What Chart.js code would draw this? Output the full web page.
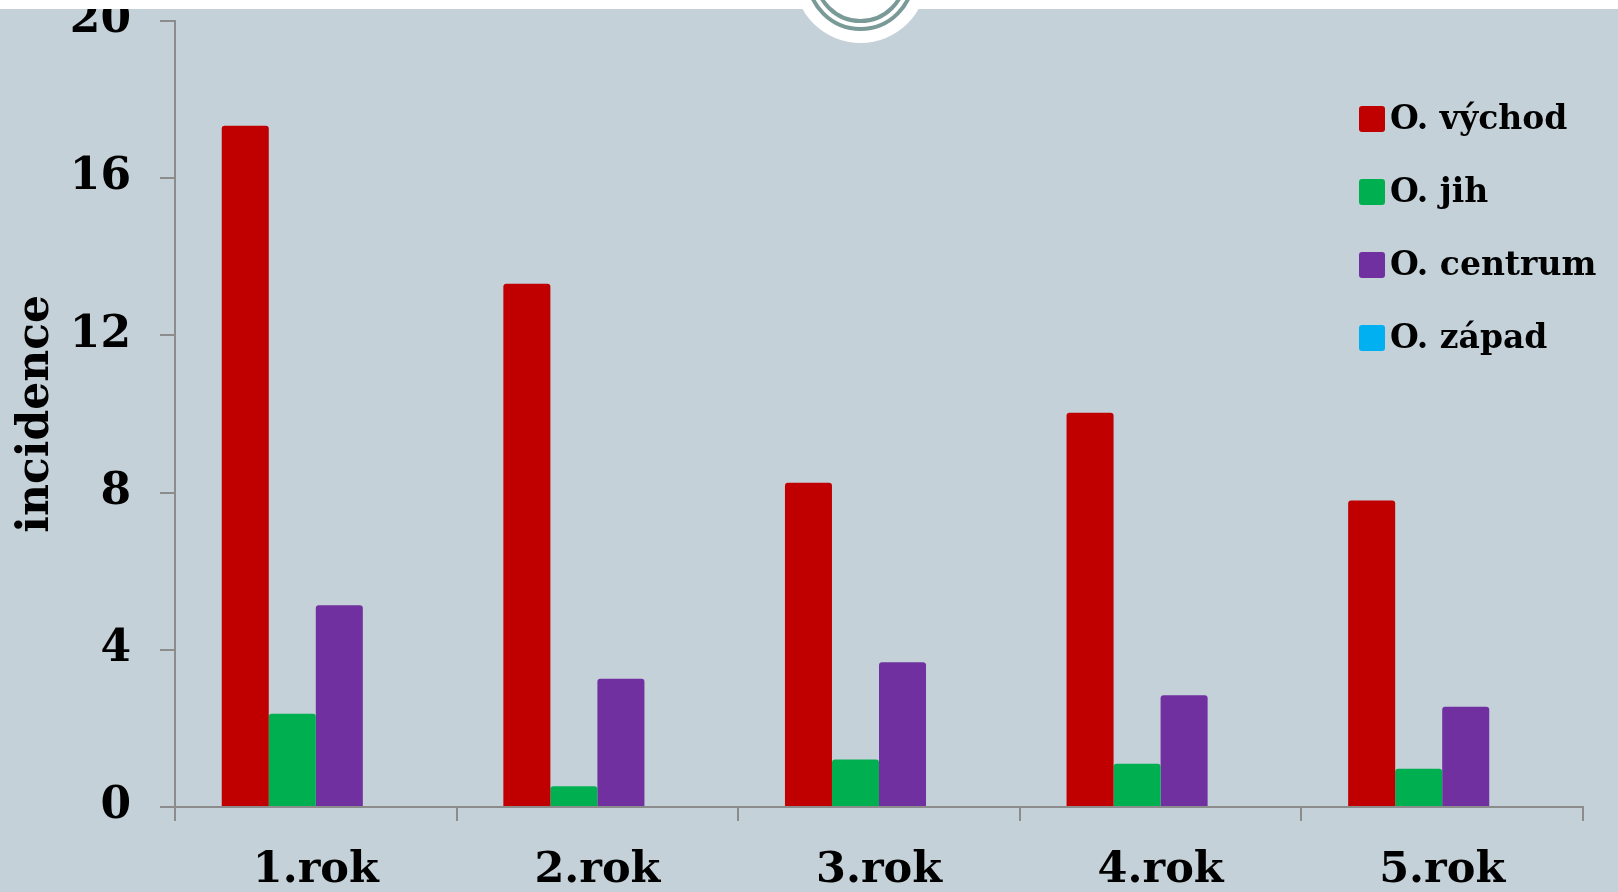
<!DOCTYPE html>
<html>
<head>
<meta charset="utf-8">
<script src="https://cdn.jsdelivr.net/npm/chart.js@4"></script>
<style>
  html, body { margin: 0; padding: 0; background: #c5d1d8; overflow: hidden; }
  #wrap { position: relative; width: 1618px; height: 892px; overflow: hidden; }
  #strip { position: absolute; left: 0; top: 0; width: 1618px; height: 9px; background: #fff; }
  .ring { position: absolute; border-radius: 50%; box-sizing: border-box; }
  #logo { left: 794px; top: -90px; width: 133px; height: 133px; background: #fff; }
  #ring1 { left: 806px; top: -78px; width: 109px; height: 109px; border: 4px solid #7a9a98; }
  #ring2 { left: 814px; top: -70px; width: 93px; height: 93px; border: 4px solid #7a9a98; }
  canvas { position: absolute; left: 0; top: -28px; }
</style>
</head>
<body>
<div id="wrap">
  <canvas id="incChart" width="1618" height="920"></canvas>
  <div id="strip"></div>
  <div id="logo" class="ring"></div>
  <div id="ring1" class="ring"></div>
  <div id="ring2" class="ring"></div>
</div>
<script>
const years = ["1.rok", "2.rok", "3.rok", "4.rok", "5.rok"];
const vychod = [17.33, 13.31, 8.25, 10.03, 7.80];
const jih = [2.37, 0.53, 1.21, 1.10, 0.97];
const centrum = [5.13, 3.26, 3.68, 2.84, 2.55];
const zapad = [0, 0, 0, 0, 0];
const yTicks = [0, 4, 8, 12, 16, 20];

const FONT = "'DejaVu Serif', serif";

// legend drawn inside the plot, top right (canvas sits 28px above the page)
const sideLegend = {
    id: "sideLegend",
    afterDraw(chart) {
        const c = chart.ctx;
        c.save();
        c.font = "bold 33px " + FONT;
        c.textBaseline = "middle";
        c.textAlign = "left";
        chart.data.datasets.forEach((ds, i) => {
            const y = 28 + 119 + i * 73;
            c.fillStyle = ds.backgroundColor;
            c.beginPath();
            c.roundRect(1359, y - 13, 26, 26, 3);
            c.fill();
            c.fillStyle = "#000";
            c.fillText(ds.label, 1390, y + 1);
        });
        c.restore();
    }
};

const ctx = document.getElementById("incChart").getContext("2d");

new Chart(ctx, {
    type: "bar",
    data: {
        labels: years,
        datasets: [
            { label: "O. východ", data: vychod, backgroundColor: "#c00000" },
            { label: "O. jih", data: jih, backgroundColor: "#00b050" },
            { label: "O. centrum", data: centrum, backgroundColor: "#7030a0" },
            { label: "O. západ", data: zapad, backgroundColor: "#00b0f0" }
        ]
    },
    options: {
        responsive: false,
        animation: false,
        datasets: {
            bar: {
                categoryPercentage: 0.668,
                barPercentage: 1,
                borderRadius: 3,
                borderWidth: 0
            }
        },
        layout: { padding: { top: 0, right: 35, left: 0, bottom: 0 } },
        plugins: {
            legend: { display: false },
            tooltip: { enabled: false }
        },
        scales: {
            x: {
                grid: {
                    drawOnChartArea: false,
                    color: "#8c8c8c",
                    lineWidth: 2,
                    tickLength: 14,
                    offset: true
                },
                border: { color: "#8c8c8c", width: 2 },
                ticks: {
                    color: "#000",
                    padding: 24,
                    font: { family: FONT, size: 43, weight: "bold" }
                },
                afterFit(scale) { scale.height = 85; }
            },
            y: {
                min: 0,
                max: 20,
                afterBuildTicks(scale) { scale.ticks = yTicks.map(v => ({ value: v })); },
                grid: {
                    drawOnChartArea: false,
                    color: "#8c8c8c",
                    lineWidth: 2,
                    tickLength: 15
                },
                border: { color: "#8c8c8c", width: 2 },
                ticks: {
                    color: "#000",
                    padding: 29,
                    font: { family: FONT, size: 44, weight: "bold", lineHeight: 0.9 }
                },
                title: {
                    display: true,
                    text: "incidence",
                    color: "#000",
                    padding: { top: 10, bottom: 0 },
                    font: { family: FONT, size: 44, weight: "bold" }
                },
                afterFit(scale) { scale.width = 175; }
            }
        }
    },
    plugins: [sideLegend]
});
</script>
</body>
</html>
